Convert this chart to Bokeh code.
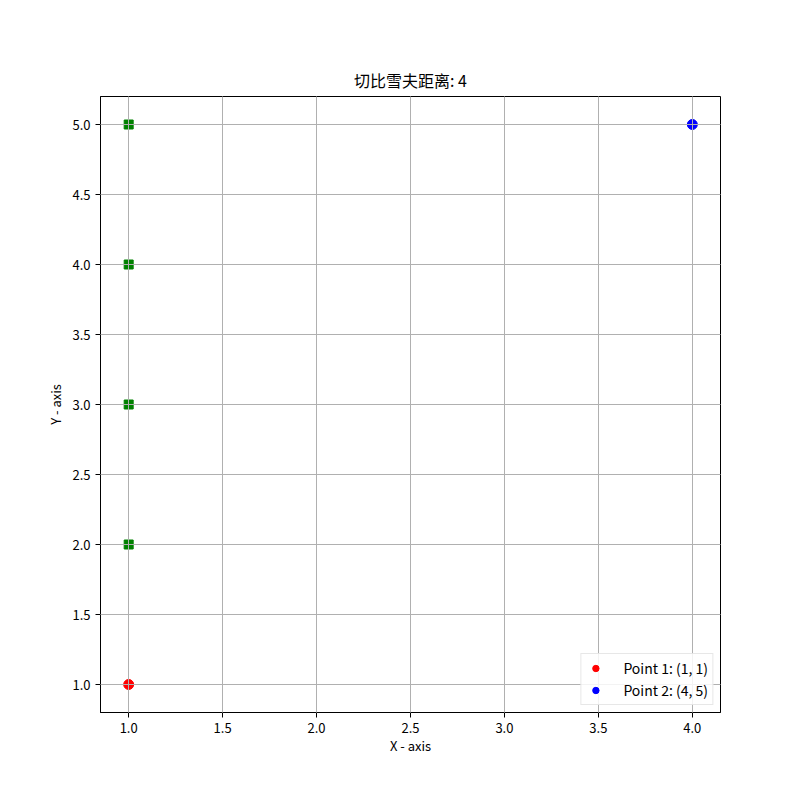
from bokeh.plotting import figure
from bokeh.models import FixedTicker, NumeralTickFormatter, Range1d, Legend, LegendItem
from bokeh.embed import file_html
from bokeh.resources import INLINE

title_text = "切比雪夫距离: 4"
p1_x = [1]
p1_y = [1]
p2_x = [4]
p2_y = [5]
path_x = [1, 1, 1, 1]
path_y = [2, 3, 4, 5]
label1 = "Point 1: (1, 1)"
label2 = "Point 2: (4, 5)"
x_ticks = [1.0, 1.5, 2.0, 2.5, 3.0, 3.5, 4.0]
y_ticks = [1.0, 1.5, 2.0, 2.5, 3.0, 3.5, 4.0, 4.5, 5.0]

FONT = "Noto Sans CJK SC"

p = figure(output_backend="svg", toolbar_location=None,
           frame_width=620, frame_height=616,
           min_border_left=100, min_border_right=72,
           min_border_top=96, min_border_bottom=76,
           x_range=Range1d(0.85, 4.15), y_range=Range1d(0.8, 5.2),
           title=title_text)
p.title.align = "center"
p.title.text_font = FONT
p.title.text_font_size = "16px"
p.title.text_font_style = "normal"
p.title.text_color = "black"

p.outline_line_color = "black"
p.outline_line_width = 1
p.background_fill_color = "white"
p.border_fill_color = "white"

for ax in (p.xaxis[0], p.yaxis[0]):
    ax.major_label_text_font = FONT
    ax.major_label_text_font_size = "13px"
    ax.major_label_text_color = "black"
    ax.axis_label_text_font = FONT
    ax.axis_label_text_font_size = "13px"
    ax.axis_label_text_font_style = "normal"
    ax.axis_label_text_color = "black"
    ax.major_tick_in = 0
    ax.major_tick_out = 5
    ax.minor_tick_in = 0
    ax.minor_tick_out = 0
    ax.axis_line_color = "black"
    ax.major_tick_line_color = "black"
    ax.formatter = NumeralTickFormatter(format="0.0")

p.xaxis[0].ticker = FixedTicker(ticks=x_ticks)
p.yaxis[0].ticker = FixedTicker(ticks=y_ticks)
p.xaxis.axis_label = "X - axis"
p.yaxis.axis_label = "Y - axis"
p.xaxis.axis_label_standoff = 0
p.yaxis.axis_label_standoff = 4

for g in (p.xgrid[0], p.ygrid[0]):
    g.grid_line_color = "#b0b0b0"
    g.grid_line_width = 1
    g.level = "annotation"
p.xgrid[0].ticker = FixedTicker(ticks=x_ticks)
p.ygrid[0].ticker = FixedTicker(ticks=y_ticks)

r1 = p.scatter(p1_x, p1_y, marker="circle", size=10, fill_color="red", line_color="red")
r2 = p.scatter(p2_x, p2_y, marker="circle", size=10, fill_color="blue", line_color="blue")
p.scatter(path_x, path_y, marker="square", size=9, fill_color="green", line_color="green")

legend = Legend(items=[LegendItem(label=label1, renderers=[r1]),
                       LegendItem(label=label2, renderers=[r2])],
                location="bottom_right")
legend.label_text_font = FONT
legend.label_text_font_size = "14px"
legend.label_text_color = "black"
legend.border_line_color = "#d0d0d0"
legend.border_line_width = 1
legend.background_fill_alpha = 0.85
legend.glyph_width = 20
legend.glyph_height = 16
legend.label_height = 16
legend.spacing = 2
legend.padding = 4
legend.margin = 7
legend.label_standoff = 18
p.add_layout(legend, "center")

open("out.html", "w").write(file_html(p, INLINE))
